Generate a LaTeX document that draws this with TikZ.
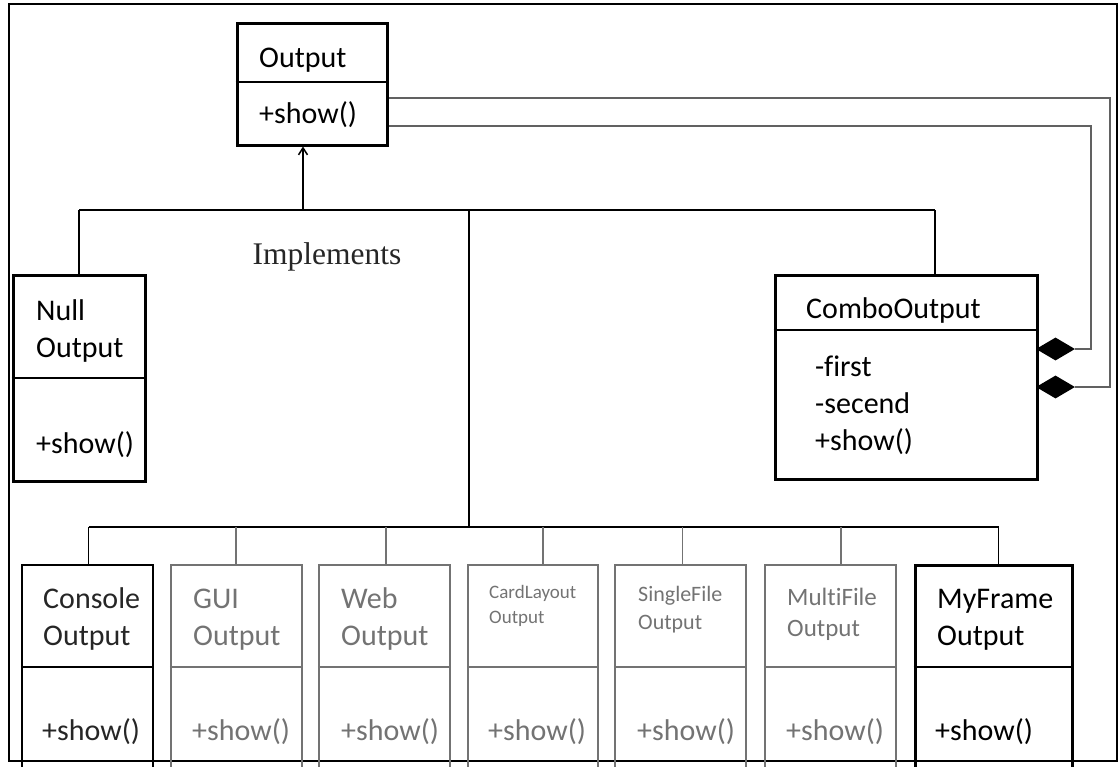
\documentclass[tikz,border=0pt]{standalone}
\usepackage{fontspec}
\setmainfont[Ligatures=NoCommon]{Carlito}
\newfontfamily\serifface{Liberation Serif}
\usetikzlibrary{arrows.meta,shapes.geometric}
\definecolor{fadedink}{gray}{0.45}
\definecolor{wiregray}{gray}{0.38}
\tikzset{
  frame/.style={draw, line width=2.8pt},
  cls/.style={draw, rectangle, line width=3pt, inner sep=0pt},
  faded/.style={draw=fadedink, rectangle, line width=2.3pt, inner sep=0pt},
  sep/.style={line width=2.8pt},
  fadedsep/.style={draw=fadedink, line width=2.3pt},
  wire/.style={line width=1.5pt},
  assoc/.style={line width=1.4pt, draw=wiregray},
  txt/.style={anchor=base west, inner sep=0pt, font=\fontsize{30}{36}\selectfont},
  ftxt/.style={txt, text=fadedink},
  comp/.style={diamond, fill=black, draw=none, inner sep=0pt, minimum width=39pt, minimum height=23pt},
}
\begin{document}
\begin{tikzpicture}[x=1pt,y=-1pt]
\useasboundingbox (0,0) rectangle (1119,766);
\draw[frame] (9,4) rectangle (1117,761);

% interface Output
\node[cls, minimum width=150pt, minimum height=122pt] (out) at (312,84) {};
\draw[sep] (out.west |- 0,82) -- (out.east |- 0,82);
\node[txt] (out-name) at (259,67) {Output};
\node[txt] (out-op) at (259,123) {+show()};

% NullOutput
\node[cls, minimum width=132pt, minimum height=206pt] (null) at (79,378) {};
\draw[sep] (null.west |- 0,378) -- (null.east |- 0,378);
\node[txt] (null-n1) at (36,320) {Null};
\node[txt] (null-n2) at (36,357) {Output};
\node[txt] (null-op) at (36,453) {+show()};

% ComboOutput
\node[cls, minimum width=262pt, minimum height=204pt] (combo) at (906,377) {};
\draw[sep] (combo.west |- 0,330) -- (combo.east |- 0,330);
\node[txt] (combo-name) at (806,318) {ComboOutput};
\node[txt] (combo-a1) at (815,376) {-first};
\node[txt] (combo-a2) at (815,413) {-secend};
\node[txt] (combo-op) at (815,450) {+show()};

% composition diamonds
\node[comp] (d1) at (1055.5,349) {};
\node[comp] (d2) at (1055.5,387) {};

% "Implements" label
\node[inner sep=0pt, font=\serifface\fontsize{31.5}{38}\selectfont, text=black!85] (impl) at (327,257) {Implements};

% concrete outputs
\node[cls, line width=2.5pt, minimum width=131pt, minimum height=225pt] (console) at (87.5,677.5) {};
\node[faded, minimum width=131pt, minimum height=225pt] (gui) at (236.5,677.5) {};
\node[faded, minimum width=131pt, minimum height=225pt] (web) at (384.5,677.5) {};
\node[faded, minimum width=130pt, minimum height=225pt] (card) at (533,677.5) {};
\node[faded, minimum width=131pt, minimum height=225pt] (single) at (680.5,677.5) {};
\node[faded, minimum width=131pt, minimum height=225pt] (multi) at (830.5,677.5) {};
\node[cls, minimum width=157pt, minimum height=225pt] (myframe) at (993.5,677.5) {};

\draw[sep, line width=2.5pt] (console.west |- 0,667) -- (console.east |- 0,667);
\draw[fadedsep] (gui.west |- 0,667) -- (gui.east |- 0,667);
\draw[fadedsep] (web.west |- 0,667) -- (web.east |- 0,667);
\draw[fadedsep] (card.west |- 0,667) -- (card.east |- 0,667);
\draw[fadedsep] (single.west |- 0,667) -- (single.east |- 0,667);
\draw[fadedsep] (multi.west |- 0,667) -- (multi.east |- 0,667);
\draw[sep] (myframe.west |- 0,667) -- (myframe.east |- 0,667);

\node[txt, text=black!85] (console-n1) at (43,608) {Console};
\node[txt, text=black!85] (console-n2) at (43,645) {Output};
\node[txt, text=black!85] (console-op) at (42,740) {+show()};

\node[ftxt] (gui-n1) at (193,608) {GUI};
\node[ftxt] (gui-n2) at (193,645) {Output};
\node[ftxt] (gui-op) at (192,740) {+show()};

\node[ftxt] (web-n1) at (341,608) {Web};
\node[ftxt] (web-n2) at (341,645) {Output};
\node[ftxt] (web-op) at (341,740) {+show()};

\node[ftxt, font=\fontsize{19}{23}\selectfont] (card-n1) at (489,598) {CardLayout};
\node[ftxt, font=\fontsize{19}{23}\selectfont] (card-n2) at (489,623) {Output};
\node[ftxt] (card-op) at (488,740) {+show()};

\node[ftxt, font=\fontsize{22}{26}\selectfont] (single-n1) at (638,601) {SingleFile};
\node[ftxt, font=\fontsize{22}{26}\selectfont] (single-n2) at (638,629) {Output};
\node[ftxt] (single-op) at (637,740) {+show()};

\node[ftxt, font=\fontsize{25}{30}\selectfont] (multi-n1) at (787,605) {MultiFile};
\node[ftxt, font=\fontsize{25}{30}\selectfont] (multi-n2) at (787,636) {Output};
\node[ftxt] (multi-op) at (786,740) {+show()};

\node[txt] (myframe-n1) at (937,608) {MyFrame};
\node[txt] (myframe-n2) at (937,645) {Output};
\node[txt] (myframe-op) at (935,740) {+show()};

% realization tree
\coordinate (up) at (303,210);
\coordinate (hub) at (469,210);
\coordinate (low) at (469,527);
\draw[wire, -{Straight Barb[length=7pt, width=9pt]}] (up) -- (up |- out.south);
\draw[wire] (null.north |- up) -- (935,210);
\draw[wire] (null.north |- up) -- (null.north);
\draw[wire] (935,210) -- (935,210 |- combo.north);
\draw[wire] (hub) -- (low);
\draw[wire] (88.5,527) -- (998.5,527);
\draw[wire] (88.5,527) -- (88.5,527 |- console.north);
\draw[wire, draw=fadedink] (236,527) -- (236,527 |- gui.north);
\draw[wire, draw=fadedink] (386,527) -- (386,527 |- web.north);
\draw[wire, draw=fadedink] (543,527) -- (543,527 |- card.north);
\draw[wire, draw=fadedink] (682.5,527) -- (682.5,527 |- single.north);
\draw[wire, draw=fadedink] (841,527) -- (841,527 |- multi.north);
\draw[wire] (998.5,527) -- (998.5,527 |- myframe.north);

% composition links back to Output
\draw[assoc] (d1.east) -| (1091,126) -- (out.east |- 0,126);
\draw[assoc] (d2.east) -| (1110,98) -- (out.east |- 0,98);
\end{tikzpicture}
\end{document}
